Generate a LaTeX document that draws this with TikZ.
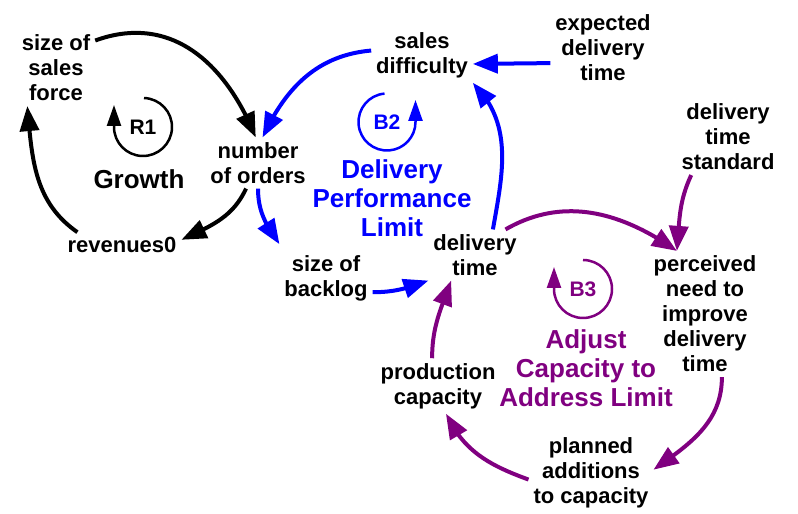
\documentclass[tikz,border=0pt]{standalone}
\usepackage{fontspec}
\setmainfont{Liberation Sans}
\usetikzlibrary{arrows.meta,bending}
\definecolor{bluelink}{RGB}{0,0,255}
\definecolor{purplelink}{RGB}{128,0,128}
\begin{document}
\begin{tikzpicture}[x=1bp,y=1bp,
  var/.style={align=center,inner sep=5bp,outer sep=0pt,font=\fontsize{22bp}{25bp}\selectfont\bfseries},
  loopname/.style={align=center,inner sep=0pt,font=\fontsize{26bp}{29bp}\selectfont\bfseries},
  looptag/.style={inner sep=0pt,font=\fontsize{21bp}{25bp}\selectfont\bfseries},
  cause/.style={line width=4bp,-{Triangle[length=25bp,width=19bp]}},
  turn/.style={line width=2.5bp,-{Triangle[length=21bp,width=14bp]}}]
\useasboundingbox (0,0) rectangle (798,514);

\node[var] (force) at (56,446) {size of\\sales\\force};
\node[var] (orders) at (258,351) {number\\of orders};
\node[var] (revenues) at (122,269) {revenues0};
\node[var] (difficulty) at (422,459) {sales\\difficulty};
\node[var] (expected) at (603,466) {expected\\delivery\\time};
\node[var] (standard) at (728,377) {delivery\\time\\standard};
\node[var] (delivery) at (475,259) {delivery\\time};
\node[var] (backlog) at (326,236) {size of\\backlog};
\node[var] (capacity) at (438,128) {production\\capacity};
\node[var] (need) at (705,200) {perceived\\need to\\improve\\delivery\\time};
\node[var] (additions) at (591,41) {planned\\additions\\to capacity};

\node[looptag] (r1) at (143,387) {R1};
\node[loopname] (growth) at (139,335) {Growth};
\node[looptag,text=bluelink] (b2) at (387,392) {B2};
\node[loopname,text=bluelink] (limit) at (392,316) {Delivery\\Performance\\Limit};
\node[looptag,text=purplelink] (b3) at (583,225) {B3};
\node[loopname,text=purplelink] (adjust) at (586,146) {Adjust\\Capacity to\\Address Limit};

\draw[turn] (r1.center) ++(88:29) arc[start angle=88,end angle=-180,radius=29] -- ++(0,22);
\draw[turn,bluelink] (b2.center) ++(95:28.5) arc[start angle=95,end angle=360,radius=28.5] -- ++(0,22);
\draw[turn,purplelink] (b3.center) ++(90:29) arc[start angle=90,end angle=-180,radius=29] -- ++(0,22);

\draw[cause] (force.35) to[out=20,in=112,looseness=1.1] (orders.95);
\draw[cause] (orders.245) to[out=-115,in=25] (revenues.5);
\draw[cause] (revenues.164) to[out=145,in=-85] (force.233);
\draw[cause,bluelink] (difficulty.175) to[out=185,in=65] (orders.80);
\draw[cause,bluelink] (orders.south) to[out=-90,in=125] ([yshift=6bp]backlog.north west);
\draw[cause,bluelink] (expected.196) -- (difficulty.-10);
\draw[cause,bluelink] (delivery.55) to[out=80,in=-45] (difficulty.south east);
\draw[cause,bluelink] (backlog.-17) to[out=0,in=200] (delivery.south west);
\draw[cause,purplelink] (delivery.40) to[out=30,in=145] (need.114);
\draw[cause,purplelink] (standard.226) to[out=-115,in=85] (need.114);
\draw[cause,purplelink] (need.-75) to[out=-90,in=35] (additions.3);
\draw[cause,purplelink] (additions.186) to[out=160,in=-65] (capacity.-74);
\draw[cause,purplelink] (capacity.102) to[out=90,in=-110] (delivery.227);
\end{tikzpicture}
\end{document}
